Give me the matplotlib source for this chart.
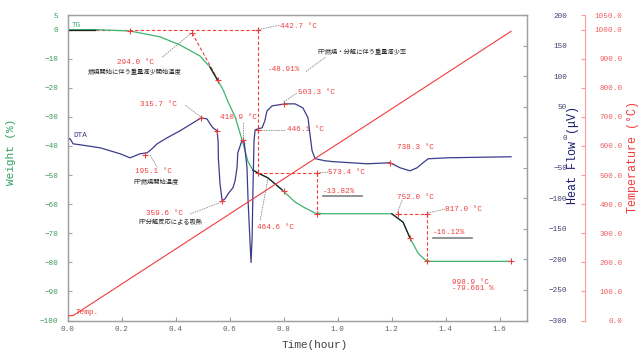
import matplotlib
matplotlib.use("Agg")
import matplotlib.pyplot as plt

plt.rcParams['font.family'] = ['Liberation Mono', 'DejaVu Sans']

# TG curve (weight %)
tg_time = [0.0, 0.1, 0.231, 0.342, 0.416, 0.49, 0.527, 0.557, 0.576, 0.594, 0.62,
           0.646, 0.668, 0.686, 0.705, 0.742, 0.794, 0.842, 0.879, 0.916, 0.95,
           1.20, 1.242, 1.268, 1.298, 1.324, 1.34, 1.642]
tg_weight = [0.0, 0.0, -0.5, -2.5, -5.3, -9.1, -12.9, -17.7, -20.8, -24.9, -30.0,
             -38.0, -45.5, -48.3, -49.3, -51.0, -55.1, -59.3, -61.3, -63.1, -63.3,
             -63.3, -66.2, -71.7, -76.9, -79.2, -79.66, -79.66]

# DTA curve (heat flow uV)
dta_time = [0.0, 0.009, 0.02, 0.046, 0.12, 0.194, 0.231, 0.268, 0.294, 0.312, 0.331,
            0.368, 0.416, 0.464, 0.494, 0.516, 0.527, 0.538, 0.553, 0.557, 0.558,
            0.564, 0.572, 0.583, 0.594, 0.612, 0.620, 0.627, 0.630, 0.645, 0.653,
            0.656, 0.664, 0.668, 0.675, 0.679, 0.683, 0.686, 0.690, 0.694, 0.705,
            0.720, 0.730, 0.738, 0.757, 0.805, 0.842, 0.871, 0.890, 0.897, 0.905,
            0.916, 0.953, 0.983, 1.109, 1.194, 1.231, 1.268, 1.294, 1.316, 1.335,
            1.405, 1.642]
dta_heat = [-2, -2.6, -10.8, -12.4, -17.3, -27.1, -33.7, -27.1, -25.5, -19, -10.8,
            -1, 10.5, 23.5, 31.7, 30, 21.9, 15.4, 10.5, -5.9, -33.7,
            -76, -104, -100.7, -92.5, -82.7, -71, -50, -25.5, -5.9, -5.9,
            -17.3, -50, -104, -169, -205, -164, -87.6, -5.9, 12, 13.7,
            15.4, 26.8, 43, 51.3, 54.6, 54.6, 48, 31.7, 5.6, -22,
            -35, -38.6, -40, -43.5, -41.8, -50, -55, -50, -41.8, -35.3,
            -33.7, -32]

# temperature program
temp_time = [0.0, 0.02, 1.642]
temp_value = [16, 17, 994]

time_ticks = [0.0, 0.2, 0.4, 0.6, 0.8, 1.0, 1.2, 1.4, 1.6]
weight_ticks = [5, 0, -10, -20, -30, -40, -50, -60, -70, -80, -90, -100]
heat_ticks = [200, 150, 100, 50, 0, -50, -100, -150, -200, -250, -300]
temp_ticks = [0, 100, 200, 300, 400, 500, 600, 700, 800, 900, 1000, 1050]

# analysis points
t_start = 0.705      # 442.7 C
t_step1 = 0.923      # 573.4 C
t_step2a = 1.222     # 752.0 C
t_step2b = 1.331     # 817.0 C
w_step1 = -49.3
w_step2 = -63.3
w_final = -79.66

tg_marks_t = [0.231, 0.461, 0.557, t_start, t_start, t_step1, t_step1, t_step2a,
              t_step2b, t_step2b, 0.80, 1.268, 1.642]
tg_marks_w = [-0.5, -1.2, -17.4, 0.0, w_step1, w_step1, w_step2, w_step2,
              w_step2, w_final, -55.6, -71.7, w_final]
dta_marks_t = [0.287, 0.494, 0.553, 0.572, 0.648, 0.705, 0.80, 1.194]
dta_marks_h = [-28.7, 31.7, 10.5, -104, -5.0, 12, 54.6, -41.8]

RED = '#f03c3c'
GREEN = '#3cb46e'
NAVY = '#3c3c8c'
GRAY = '#a0a0a0'

fig = plt.figure(figsize=(6.4, 3.56), dpi=100)
ax = fig.add_axes([0.1058, 0.0997, 0.7172, 0.8581])
ax2 = ax.twinx()
ax3 = ax.twinx()

# main axis (weight)
ax.set_xlim(0, 1.7)
ax.set_ylim(-100, 5)
ax.set_xticks(time_ticks)
ax.set_xticklabels(['%.1f' % v for v in time_ticks])
ax.set_yticks(weight_ticks)
ax.tick_params(axis='x', direction='in', length=3, color=GRAY, labelsize=5.5,
               labelcolor='#606060', pad=4)
ax.tick_params(axis='y', direction='in', length=3, color=GRAY, labelsize=5.5,
               labelcolor='#3a9a5a', pad=7)
for s in ax.spines.values():
    s.set_color(GRAY)
    s.set_linewidth(1.0)

# heat flow axis
ax2.set_ylim(-300, 200)
ax2.set_yticks(heat_ticks)
ax2.tick_params(axis='y', direction='in', length=3, color=GRAY, labelsize=5.5,
                labelcolor='#404070', pad=29)
plt.setp(ax2.get_yticklabels(), ha='right')
for s in ax2.spines.values():
    s.set_color(GRAY)

# temperature axis
ax3.set_ylim(0, 1050)
ax3.spines['right'].set_position(('axes', 1.127))
ax3.spines['right'].set_color('#ff9a9a')
for k in ['left', 'top', 'bottom']:
    ax3.spines[k].set_visible(False)
ax3.set_yticks(temp_ticks)
ax3.set_yticklabels(['%.1f' % v for v in temp_ticks])
ax3.tick_params(axis='y', direction='in', length=3, color='#ff9a9a', labelsize=5.5,
                labelcolor='#f06060', pad=27)
plt.setp(ax3.get_yticklabels(), ha='right')

# curves
ax.plot(tg_time, tg_weight, color=GREEN, lw=0.9, zorder=3)
for lo, hi in [(0.0, 0.1), (0.527, 0.557), (0.686, 0.80), (1.20, 1.27)]:
    seg_t = [t for t in tg_time if lo <= t <= hi]
    seg_w = [w for t, w in zip(tg_time, tg_weight) if lo <= t <= hi]
    ax.plot(seg_t, seg_w, color='#202020', lw=0.9, zorder=4)
ax2.plot(dta_time, dta_heat, color=NAVY, lw=0.9)
ax3.plot(temp_time, temp_value, color=RED, lw=0.8)

# construction lines
dash = dict(color=RED, lw=0.8, ls=(0, (3, 2)), zorder=2)
ax.plot([0, t_start], [0, 0], **dash)
ax.plot([0.461, 0.557], [-1.2, -17.4], **dash)
ax.plot([t_start, t_start], [0, w_step1], **dash)
ax.plot([t_start, t_step1], [w_step1, w_step1], **dash)
ax.plot([t_step1, t_step1], [w_step1, w_step2], **dash)
ax.plot([t_step2a, t_step2b], [w_step2, w_step2], **dash)
ax.plot([t_step2b, t_step2b], [w_step2, w_final], **dash)

ax.plot(tg_marks_t, tg_marks_w, '+', color=RED, ms=4, mew=0.8, zorder=5)
ax2.plot(dta_marks_t, dta_marks_h, '+', color=RED, ms=4, mew=0.8, zorder=5)

# leader lines
leaders = [((0.35, -9.5), (0.454, -1.5)), ((0.705, 0), (0.786, 1.5)),
           ((0.954, -9.5), (0.88, -14.6)), ((0.80, -24.9), (0.849, -21.8)),
           ((0.435, -26), (0.494, -30.1)), ((0.649, -31.8), (0.649, -37.3)),
           ((0.705, -34.5), (0.805, -34.5)), ((0.305, -43.1), (0.331, -47.3)),
           ((0.923, -49.3), (0.964, -49)), ((1.22, -63.1), (1.239, -58.5)),
           ((1.331, -63.1), (1.397, -61.7)), ((0.453, -63.4), (0.569, -59.3)),
           ((0.713, -65.5), (0.742, -51))]
for (x0, y0), (x1, y1) in leaders:
    ax.plot([x0, x1], [y0, y1], color='#909090', lw=0.6, ls=(0, (2, 1)), zorder=2)

# labels
red_labels = [
    ('294.0 °C', 0.183, -11.2), ('442.7 °C', 0.786, 1.2), ('-48.91%', 0.742, -13.6),
    ('503.3 °C', 0.853, -21.8), ('315.7 °C', 0.268, -25.6), ('410.9 °C', 0.564, -30.1),
    ('446.1 °C', 0.812, -34.3), ('738.3 °C', 1.219, -40.7), ('195.1 °C', 0.249, -48.9),
    ('573.4 °C', 0.964, -49.1), ('-13.82%', 0.946, -55.6), ('359.6 °C', 0.290, -63.1),
    ('752.0 °C', 1.219, -57.6), ('817.0 °C', 1.397, -61.7), ('-16.12%', 1.353, -69.9),
    ('464.6 °C', 0.701, -67.9), ('998.9 °C', 1.423, -86.8), ('-79.661 %', 1.423, -89.1),
    ('Temp.', 0.028, -97.4),
]
for txt, x, y in red_labels:
    ax.text(x, y, txt, color=RED, fontsize=5.5, ha='left', va='center', zorder=6)

for txt, x, y in [('-13.82%', 0.946, -57.1), ('-16.12%', 1.353, -71.5)]:
    ax.plot([x, x + 0.145], [y, y], color='#808080', lw=1.2)

ax.text(0.016, 1.5, 'TG', color=GREEN, fontsize=5.5, ha='left', va='center')
ax.text(0.02, -36.4, 'DTA', color=NAVY, fontsize=5.5, ha='left', va='center')

jp = ['Noto Sans CJK JP', 'DejaVu Sans']
jp_labels = [('燃焼開始に伴う重量減少開始温度', 0.075, -14.6),
             ('PP燃焼・分解に伴う重量減少率', 0.925, -7.9),
             ('PP燃焼開始温度', 0.242, -52.6),
             ('PP分解反応による吸熱', 0.26, -66.2)]
for txt, x, y in jp_labels:
    ax.text(x, y, txt, color='#202020', fontsize=4.5, family=jp, ha='left', va='center', zorder=6)

# axis titles
fig.text(315 / 640, 1 - 345 / 356, 'Time(hour)', fontsize=8, color='#404040',
         ha='center', va='center')
fig.text(11 / 640, 1 - 152 / 356, 'Weight (%)', fontsize=8, color='#2e9e5e',
         rotation=90, ha='center', va='center')
fig.text(573 / 640, 1 - 155 / 356, 'Heat Flow (μV)', fontsize=8.5, color='#1a1a6e',
         rotation=90, ha='center', va='center')
fig.text(633 / 640, 1 - 157 / 356, 'Temperature (°C)', fontsize=8.5, color=RED,
         rotation=90, ha='center', va='center')

fig.savefig('out.png', dpi=100)
